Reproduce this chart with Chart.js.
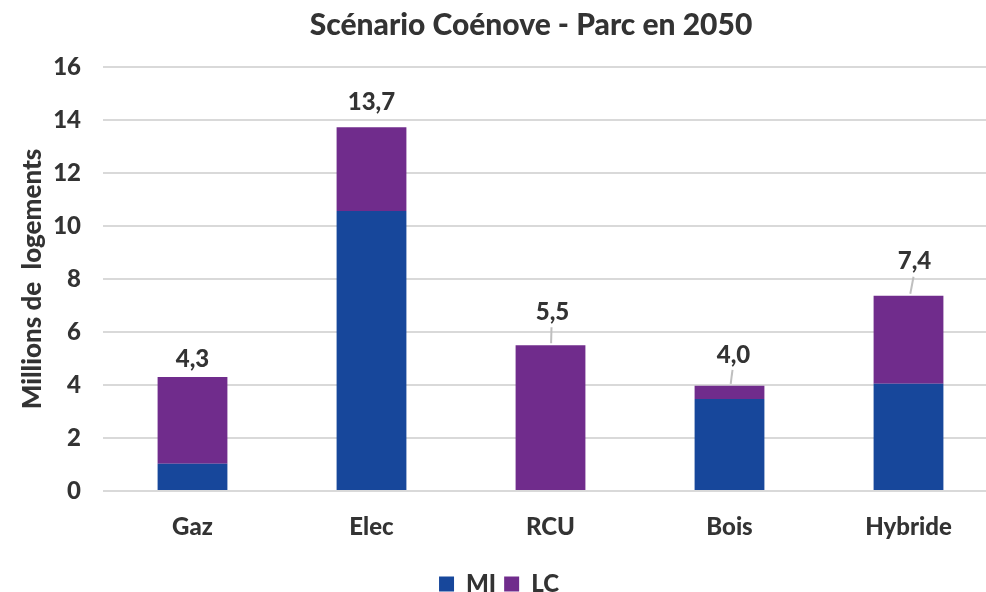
<!DOCTYPE html>
<html>
  <head>
    <meta charset="utf-8">
    <script src="https://cdn.jsdelivr.net/npm/chart.js@4.4.0/dist/chart.umd.min.js"></script>
    <style>
      html, body { margin: 0; padding: 0; background: #fff; overflow: hidden; }
      #wrap { position: relative; width: 986px; height: 592px; overflow: hidden; }
      #titre {
        position: absolute; top: 5px; left: 231px; width: 600px;
        text-align: center; font: 900 30px Lato; color: #333;
      }
      canvas { position: absolute; left: 0; top: 0; }
    </style>
  </head>
  <body>
    <div id="wrap">
      <canvas id="myChart" width="1000" height="606"></canvas>
      <div id="titre">Scénario Coénove - Parc en 2050</div>
    </div>
    <script>
      // valeurs (millions de logements)
      const categories = ['Gaz', 'Elec', 'RCU', 'Bois', 'Hybride'];
      const valeursMI = [1.03, 10.57, 0, 3.47, 4.05];
      const valeursLC = [3.27, 3.16, 5.5, 0.5, 3.32];
      const ticksY = [0, 2, 4, 6, 8, 10, 12, 14, 16];

      const bleu = '#17479B';
      const violet = '#702C8C';
      const texte = '#333';
      const police = { family: 'Lato', weight: 900, size: 24 };

      // decalage des etiquettes de total : [dx, dy, trait de rappel]
      const decalages = [[0, 18, false], [0, 25, false], [2, 33, true], [4, 31, true], [6, 34, true]];

      const totaux = {
        id: 'totaux',
        afterDatasetsDraw(chart) {
          const ctx = chart.ctx;
          const x = chart.scales.x, y = chart.scales.y;
          ctx.save();
          ctx.font = '900 24px Lato';
          ctx.fillStyle = '#333';
          ctx.textAlign = 'center';
          ctx.textBaseline = 'middle';
          categories.forEach((c, i) => {
            const total = valeursMI[i] + valeursLC[i];
            const px = x.getPixelForValue(i);
            const py = y.getPixelForValue(total);
            const d = decalages[i];
            ctx.fillText(total.toFixed(1).replace('.', ','), px + d[0], py - d[1]);
            if (d[2]) {
              ctx.strokeStyle = '#BFBFBF';
              ctx.lineWidth = 2;
              ctx.beginPath();
              ctx.moveTo(px + d[0] - 1, py - d[1] + 15);
              ctx.lineTo(px + d[0] * 0.3, py - 2);
              ctx.stroke();
            }
          });
          ctx.restore();
        }
      };

      const config = {
        type: 'bar',
        data: {
          labels: categories,
          datasets: [
            { label: 'MI', data: valeursMI, backgroundColor: bleu },
            { label: 'LC', data: valeursLC, backgroundColor: violet }
          ]
        },
        options: {
          responsive: false,
          animation: false,
          barPercentage: 0.39,
          categoryPercentage: 1,
          layout: { padding: { top: 67, right: 2, left: 0, bottom: 0 } },
          scales: {
            x: {
              stacked: true,
              afterFit: (s) => { s.height = 73; },
              grid: { display: false, drawTicks: false },
              border: { display: false },
              ticks: { color: texte, font: police, padding: 22 }
            },
            y: {
              stacked: true,
              min: 0,
              max: 16,
              afterBuildTicks: (s) => { s.ticks = ticksY.map(v => ({ value: v })); },
              afterFit: (s) => { s.width = 103; },
              grid: { color: '#D9D9D9', lineWidth: 2, drawTicks: false },
              border: { display: false },
              ticks: { color: texte, font: police, padding: 22 },
              title: {
                display: true,
                text: 'Millions de  logements',
                color: '#333',
                font: { family: 'Lato', weight: 900, size: 26 },
                padding: { top: 17, bottom: 0 }
              }
            }
          },
          plugins: {
            title: { display: false },
            tooltip: { enabled: false },
            legend: {
              position: 'bottom',
              labels: {
                color: '#333',
                font: police,
                boxWidth: 15,
                boxHeight: 15,
                padding: 8
              }
            }
          }
        },
        plugins: [totaux]
      };

      var myChart = new Chart(document.getElementById('myChart'), config);
    </script>
  </body>
</html>
